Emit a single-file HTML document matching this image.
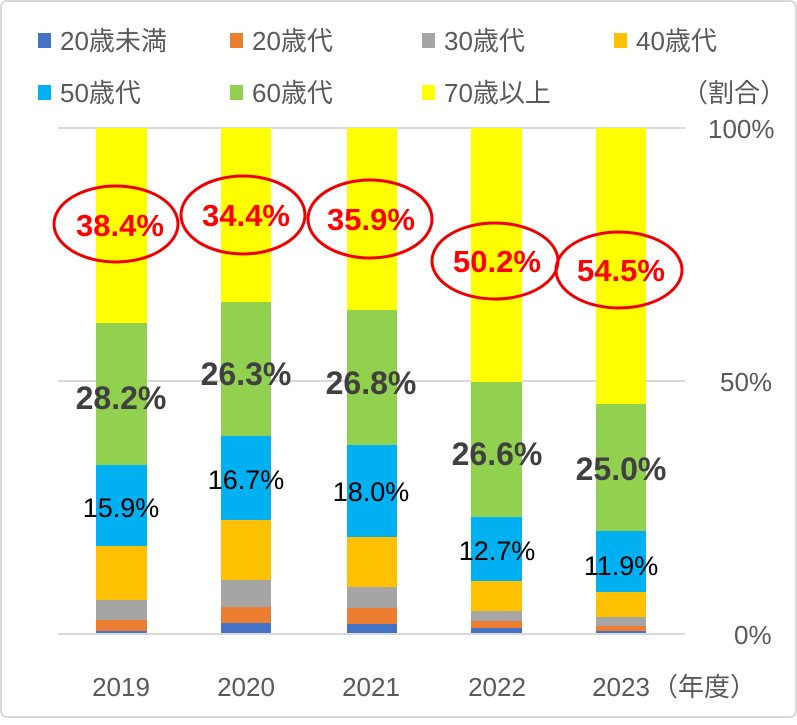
<!DOCTYPE html><html><head><meta charset="utf-8"><style>
body{margin:0;background:#fff}
svg text{font-family:"Liberation Sans","Noto Sans CJK JP",sans-serif}
</style></head><body>
<svg width="797" height="720" viewBox="0 0 797 720" xmlns="http://www.w3.org/2000/svg">
<rect x="1" y="1" width="795" height="716" rx="6" fill="#fff" stroke="#d9d9d9" stroke-width="2"/>
<g font-size="26" fill="#595959">
<rect x="38" y="33" width="13" height="15" fill="#4472c4"/><text x="60" y="50">20歳未満</text>
<rect x="230" y="33" width="13" height="15" fill="#ed7d31"/><text x="252" y="50">20歳代</text>
<rect x="422" y="33" width="13" height="15" fill="#a5a5a5"/><text x="444" y="50">30歳代</text>
<rect x="614" y="33" width="13" height="15" fill="#ffc000"/><text x="636" y="50">40歳代</text>
<rect x="38" y="85" width="13" height="15" fill="#00b0f0"/><text x="60" y="102">50歳代</text>
<rect x="230" y="85" width="13" height="15" fill="#92d050"/><text x="252" y="102">60歳代</text>
<rect x="422" y="85" width="13" height="15" fill="#ffff00"/><text x="444" y="102">70歳以上</text>
<text x="682" y="102">（割合）</text>
<text x="708" y="138">100%</text>
<text x="720" y="391">50%</text>
<text x="734" y="644">0%</text>
<text x="121" y="696" text-anchor="middle">2019</text>
<text x="246" y="696" text-anchor="middle">2020</text>
<text x="371" y="696" text-anchor="middle">2021</text>
<text x="497" y="696" text-anchor="middle">2022</text>
<text x="621" y="696" text-anchor="middle">2023</text>
<text x="652" y="696">（年度）</text>
</g>
<g stroke="#d9d9d9" stroke-width="2"><line x1="58" y1="128" x2="685" y2="128"/><line x1="58" y1="381" x2="685" y2="381"/></g>
<g>
<rect x="96" y="128" width="51" height="195" fill="#ffff00"/><rect x="96" y="323" width="51" height="142" fill="#92d050"/><rect x="96" y="465" width="51" height="81" fill="#00b0f0"/><rect x="96" y="546" width="51" height="54" fill="#ffc000"/><rect x="96" y="600" width="51" height="20" fill="#a5a5a5"/><rect x="96" y="620" width="51" height="11" fill="#ed7d31"/><rect x="96" y="631" width="51" height="3" fill="#4472c4"/>
<rect x="221" y="128" width="50" height="174" fill="#ffff00"/><rect x="221" y="302" width="50" height="134" fill="#92d050"/><rect x="221" y="436" width="50" height="84" fill="#00b0f0"/><rect x="221" y="520" width="50" height="60" fill="#ffc000"/><rect x="221" y="580" width="50" height="27" fill="#a5a5a5"/><rect x="221" y="607" width="50" height="16" fill="#ed7d31"/><rect x="221" y="623" width="50" height="11" fill="#4472c4"/>
<rect x="347" y="128" width="50" height="182" fill="#ffff00"/><rect x="347" y="310" width="50" height="135" fill="#92d050"/><rect x="347" y="445" width="50" height="92" fill="#00b0f0"/><rect x="347" y="537" width="50" height="50" fill="#ffc000"/><rect x="347" y="587" width="50" height="21" fill="#a5a5a5"/><rect x="347" y="608" width="50" height="16" fill="#ed7d31"/><rect x="347" y="624" width="50" height="10" fill="#4472c4"/>
<rect x="471" y="128" width="51" height="254" fill="#ffff00"/><rect x="471" y="382" width="51" height="135" fill="#92d050"/><rect x="471" y="517" width="51" height="64" fill="#00b0f0"/><rect x="471" y="581" width="51" height="30" fill="#ffc000"/><rect x="471" y="611" width="51" height="10" fill="#a5a5a5"/><rect x="471" y="621" width="51" height="7" fill="#ed7d31"/><rect x="471" y="628" width="51" height="6" fill="#4472c4"/>
<rect x="596" y="128" width="50" height="276" fill="#ffff00"/><rect x="596" y="404" width="50" height="127" fill="#92d050"/><rect x="596" y="531" width="50" height="61" fill="#00b0f0"/><rect x="596" y="592" width="50" height="25" fill="#ffc000"/><rect x="596" y="617" width="50" height="9" fill="#a5a5a5"/><rect x="596" y="626" width="50" height="5" fill="#ed7d31"/><rect x="596" y="631" width="50" height="3" fill="#4472c4"/>
</g>
<line x1="58" y1="634" x2="685" y2="634" stroke="#d9d9d9" stroke-width="2"/>
<g fill="none" stroke="#ee0000" stroke-width="3">
<ellipse cx="116" cy="224" rx="62" ry="38"/><ellipse cx="243" cy="215" rx="62" ry="39"/><ellipse cx="370" cy="219" rx="62" ry="39"/><ellipse cx="495" cy="261" rx="63" ry="38"/><ellipse cx="619" cy="270" rx="63" ry="38"/>
</g>
<g font-size="31" font-weight="bold" fill="#ff0000" text-anchor="middle">
<text x="120" y="236">38.4%</text><text x="246" y="226">34.4%</text><text x="371" y="230">35.9%</text><text x="497" y="272">50.2%</text><text x="621" y="281">54.5%</text>
</g>
<g font-size="32" font-weight="bold" fill="#404040" text-anchor="middle">
<text x="121" y="409">28.2%</text><text x="246" y="385">26.3%</text><text x="371" y="394">26.8%</text><text x="497" y="465">26.6%</text><text x="621" y="480">25.0%</text>
</g>
<g font-size="27" fill="#000" text-anchor="middle">
<text x="121" y="517">15.9%</text><text x="246" y="489">16.7%</text><text x="371" y="501">18.0%</text><text x="497" y="560">12.7%</text><text x="621" y="575">11.9%</text>
</g>
</svg></body></html>
